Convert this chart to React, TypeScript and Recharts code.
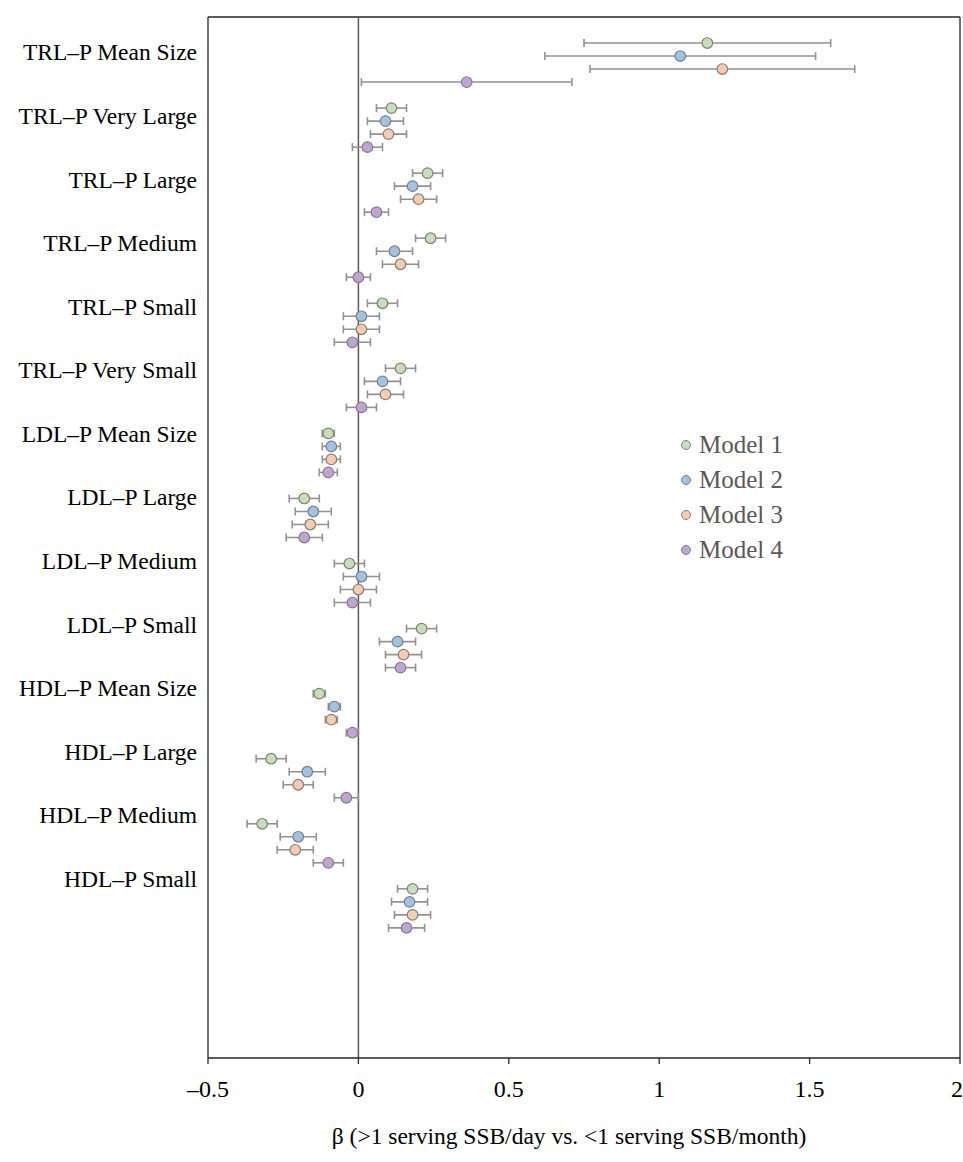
import React from 'react';
import {
  ComposedChart,
  Scatter,
  ErrorBar,
  XAxis,
  YAxis,
  ReferenceLine,
  Legend,
} from 'recharts';

// lipoprotein subclasses, top to bottom
const labels = [
  'TRL–P Mean Size',
  'TRL–P Very Large',
  'TRL–P Large',
  'TRL–P Medium',
  'TRL–P Small',
  'TRL–P Very Small',
  'LDL–P Mean Size',
  'LDL–P Large',
  'LDL–P Medium',
  'LDL–P Small',
  'HDL–P Mean Size',
  'HDL–P Large',
  'HDL–P Medium',
  'HDL–P Small',
];

// [beta, lower CI, upper CI] per subclass
const model1 = [
  [1.16, 0.75, 1.57],
  [0.11, 0.06, 0.16],
  [0.23, 0.18, 0.28],
  [0.24, 0.19, 0.29],
  [0.08, 0.03, 0.13],
  [0.14, 0.09, 0.19],
  [-0.1, -0.12, -0.08],
  [-0.18, -0.23, -0.13],
  [-0.03, -0.08, 0.02],
  [0.21, 0.16, 0.26],
  [-0.13, -0.15, -0.11],
  [-0.29, -0.34, -0.24],
  [-0.32, -0.37, -0.27],
  [0.18, 0.13, 0.23],
];

const model2 = [
  [1.07, 0.62, 1.52],
  [0.09, 0.03, 0.15],
  [0.18, 0.12, 0.24],
  [0.12, 0.06, 0.18],
  [0.01, -0.05, 0.07],
  [0.08, 0.02, 0.14],
  [-0.09, -0.12, -0.06],
  [-0.15, -0.21, -0.09],
  [0.01, -0.05, 0.07],
  [0.13, 0.07, 0.19],
  [-0.08, -0.1, -0.06],
  [-0.17, -0.23, -0.11],
  [-0.2, -0.26, -0.14],
  [0.17, 0.11, 0.23],
];

const model3 = [
  [1.21, 0.77, 1.65],
  [0.1, 0.04, 0.16],
  [0.2, 0.14, 0.26],
  [0.14, 0.08, 0.2],
  [0.01, -0.05, 0.07],
  [0.09, 0.03, 0.15],
  [-0.09, -0.12, -0.06],
  [-0.16, -0.22, -0.1],
  [0.0, -0.06, 0.06],
  [0.15, 0.09, 0.21],
  [-0.09, -0.11, -0.07],
  [-0.2, -0.25, -0.15],
  [-0.21, -0.27, -0.15],
  [0.18, 0.12, 0.24],
];

const model4 = [
  [0.36, 0.01, 0.71],
  [0.03, -0.02, 0.08],
  [0.06, 0.02, 0.1],
  [0.0, -0.04, 0.04],
  [-0.02, -0.08, 0.04],
  [0.01, -0.04, 0.06],
  [-0.1, -0.13, -0.07],
  [-0.18, -0.24, -0.12],
  [-0.02, -0.08, 0.04],
  [0.14, 0.09, 0.19],
  [-0.02, -0.04, 0.0],
  [-0.04, -0.08, 0.0],
  [-0.1, -0.15, -0.05],
  [0.16, 0.1, 0.22],
];

const xTicks = [-0.5, 0, 0.5, 1, 1.5, 2];

const models = [
  { name: 'Model 1', values: model1, color: '#c5e0b4' },
  { name: 'Model 2', values: model2, color: '#9dc3e6' },
  { name: 'Model 3', values: model3, color: '#f8cbad' },
  { name: 'Model 4', values: model4, color: '#c2a3d6' },
];

const FONT = '"Liberation Serif", "Times New Roman", serif';
const OUTLINE = '#7f7f7f';

// each subclass takes 5 rows: 4 models + 1 blank
const toRows = (values: number[][], m: number) =>
  values.map(([est, lo, hi], g) => ({
    x: est,
    y: 2 + g * 5 + m,
    err: [est - lo, hi - est],
  }));

const fmtX = (v: number) => (v < 0 ? '–' + Math.abs(v) : String(v));

function LegendBox() {
  return (
    <div style={{ fontFamily: FONT }}>
      {models.map((m) => (
        <div
          key={m.name}
          style={{ display: 'flex', alignItems: 'center', height: 35 }}
        >
          <svg width={14} height={14} style={{ marginRight: 6 }}>
            <circle cx={7} cy={7} r={4.5} fill={m.color} stroke={OUTLINE} strokeWidth={1} />
          </svg>
          <span style={{ fontSize: 25, color: '#595959', lineHeight: '35px' }}>{m.name}</span>
        </div>
      ))}
    </div>
  );
}

export default function App() {
  return (
    <div style={{ position: 'absolute', left: 0, top: 0, background: '#fff' }}>
      <ComposedChart
        width={963}
        height={1162}
        margin={{ top: 17, right: 3, bottom: 44, left: 0 }}
      >
        <XAxis
          type="number"
          dataKey="x"
          domain={[-0.5, 2]}
          ticks={xTicks}
          allowDataOverflow
          tickFormatter={fmtX}
          height={60}
          tickSize={6}
          tickMargin={16}
          stroke="#262626"
          strokeWidth={1.3}
          tick={{ fill: '#000', fontSize: 24, fontFamily: FONT }}
          label={{
            value: 'β (>1 serving SSB/day vs. <1 serving SSB/month)',
            position: 'bottom',
            offset: 9,
            dx: -15,
            style: { fill: '#000', fontSize: 23.5, fontFamily: FONT },
          }}
        />
        <YAxis
          yAxisId="lab"
          type="number"
          domain={[-0.55, 15.82]}
          reversed
          allowDataOverflow
          ticks={labels.map((_, i) => i)}
          tickFormatter={(i: number) => labels[i] ?? ''}
          width={208}
          tickSize={0}
          tickMargin={11}
          stroke="#262626"
          strokeWidth={1.3}
          tick={{ fill: '#000', fontSize: 23.5, fontFamily: FONT }}
        />
        <YAxis
          yAxisId="slot"
          type="number"
          dataKey="y"
          domain={[0, 80]}
          reversed
          allowDataOverflow
          hide
        />
        <ReferenceLine yAxisId="slot" y={0} stroke="#262626" strokeWidth={1.3} />
        <ReferenceLine yAxisId="slot" x={2} stroke="#262626" strokeWidth={1.3} />
        <ReferenceLine yAxisId="slot" x={0} stroke="#595959" strokeWidth={1.5} />
        {models.map((m, i) => (
          <Scatter
            key={m.name}
            name={m.name}
            yAxisId="slot"
            dataKey="y"
            data={toRows(m.values, i)}
            fill={m.color}
            isAnimationActive={false}
            shape={(p: any) => (
              <circle cx={p.cx} cy={p.cy} r={5.3} fill={m.color} stroke={OUTLINE} strokeWidth={1.2} />
            )}
          >
            <ErrorBar dataKey="err" direction="x" width={4} stroke="#929292" strokeWidth={1.6} />
          </Scatter>
        ))}
        <Legend
          layout="vertical"
          align="center"
          verticalAlign="middle"
          wrapperStyle={{ left: 679, top: 427, width: 140 }}
          content={() => <LegendBox />}
        />
      </ComposedChart>
    </div>
  );
}
